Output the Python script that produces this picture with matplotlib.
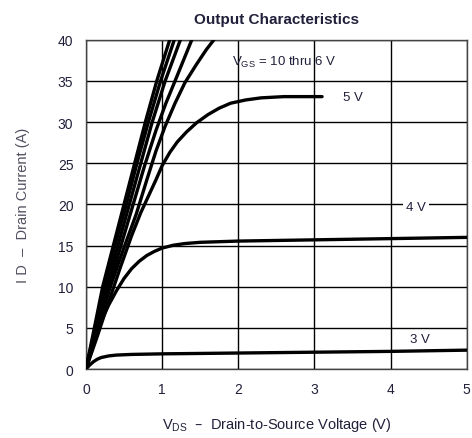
import numpy as np
import matplotlib.pyplot as plt

plt.rcParams['font.family'] = ['Liberation Sans', 'DejaVu Sans']

# drain-source voltage (V) / drain current (A), one pair per gate voltage
vds_10 = [0, 0.10, 0.22, 0.36, 0.50, 0.64, 0.78, 0.93, 1.10]
id_10 = [0, 4.5, 10, 15, 20, 25, 30, 35, 40]
vds_9 = [0, 0.11, 0.24, 0.38, 0.53, 0.67, 0.82, 0.98, 1.16]
id_9 = [0, 4.5, 10, 15, 20, 25, 30, 35, 40]
vds_8 = [0, 0.12, 0.27, 0.42, 0.57, 0.72, 0.87, 1.04, 1.24]
id_8 = [0, 4.5, 10, 15, 20, 25, 30, 35, 40]
vds_7 = [0, 0.15, 0.30, 0.46, 0.62, 0.77, 0.92, 1.05, 1.17, 1.28, 1.39]
id_7 = [0, 5, 10, 15, 20, 24.7, 29, 32.3, 35, 37.5, 40]
vds_6 = [0, 0.16, 0.32, 0.49, 0.66, 0.80, 0.92, 1.04, 1.17, 1.30, 1.45, 1.58, 1.68]
id_6 = [0, 5, 10, 14.5, 18.8, 23, 26.5, 29.5, 32.3, 34.8, 37, 38.8, 40]
vds_5 = [0, 0.15, 0.30, 0.45, 0.60, 0.72, 0.82, 0.92, 1.00, 1.10, 1.20, 1.32,
         1.45, 1.60, 1.75, 1.90, 2.10, 2.30, 2.60, 3.10]
id_5 = [0, 4, 8.2, 12.3, 16.2, 19, 21, 23, 24.7, 26.3, 27.6, 28.8,
        29.9, 30.9, 31.7, 32.3, 32.7, 32.95, 33.1, 33.1]
vds_4 = [0, 0.10, 0.20, 0.30, 0.40, 0.50, 0.60, 0.70, 0.80, 0.90, 1.00, 1.15,
         1.30, 1.50, 2.0, 3.0, 4.0, 5.0]
id_4 = [0, 3, 5.8, 7.8, 9.5, 11, 12.2, 13.1, 13.8, 14.3, 14.7, 15.05,
        15.25, 15.4, 15.55, 15.7, 15.85, 16.0]
vds_3 = [0, 0.05, 0.10, 0.15, 0.20, 0.30, 0.40, 0.60, 1.0, 2.0, 3.0, 4.0, 5.0]
id_3 = [0, 0.5, 0.9, 1.2, 1.4, 1.6, 1.7, 1.78, 1.85, 1.95, 2.05, 2.15, 2.3]

curves = [(vds_10, id_10), (vds_9, id_9), (vds_8, id_8), (vds_7, id_7),
          (vds_6, id_6), (vds_5, id_5), (vds_4, id_4), (vds_3, id_3)]

txt = '#20203a'

fig = plt.figure(figsize=(4.72, 4.39), dpi=100)
ax = fig.add_axes([0.182, 0.157, 0.807, 0.750])

for v, i in curves:
    ax.plot(v, i, color='black', lw=2.4, solid_capstyle='round',
            solid_joinstyle='round', zorder=3)

ax.set_xlim(0, 5)
ax.set_ylim(0, 40)
ax.set_xticks(np.arange(0, 6, 1))
ax.set_yticks(np.arange(0, 45, 5))
ax.grid(True, color='black', lw=1.0)
ax.set_axisbelow(True)
ax.tick_params(length=0, pad=9, labelsize=10, labelcolor=txt)
for s in ax.spines.values():
    s.set_color('#444444')
    s.set_linewidth(1.0)

ax.set_title('Output Characteristics', fontsize=11, fontweight='bold', color=txt, pad=12)
ax.set_xlabel('V$_{\\mathregular{DS}}$  \u2013  Drain-to-Source Voltage (V)', fontsize=10.5, color=txt, labelpad=14)
ax.set_ylabel('I D  \u2013  Drain Current (A)', fontsize=10.5, color='#505060', labelpad=20)

ax.text(1.92, 37.4, 'V$_{\\mathregular{GS}}$ = 10 thru 6 V', fontsize=9.5, color=txt, va='center', zorder=4)
ax.text(3.37, 33.1, '5 V', fontsize=9.5, color=txt, va='center', zorder=4)
ax.text(4.2, 19.7, '4 V', fontsize=9.5, color=txt, va='center', zorder=4,
        bbox=dict(facecolor='white', edgecolor='none', pad=2))
ax.text(4.25, 3.7, '3 V', fontsize=9.5, color=txt, va='center', zorder=4)

fig.savefig('out.png', dpi=100)
